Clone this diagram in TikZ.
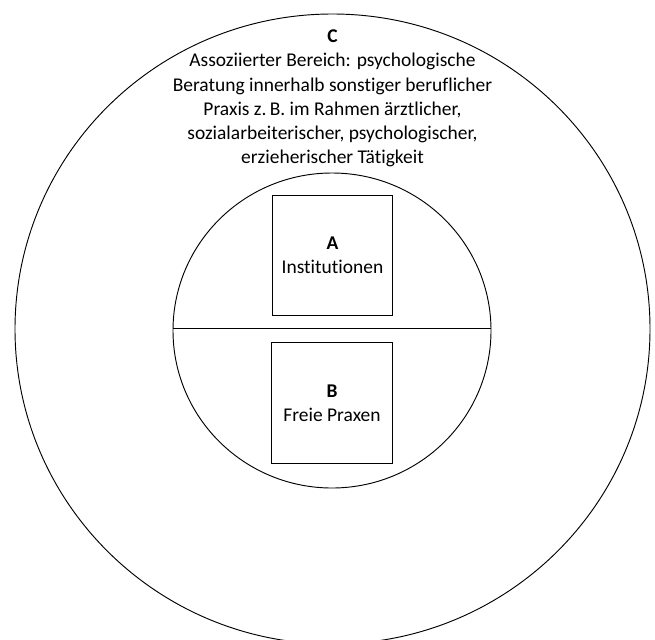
\documentclass[tikz,border=0pt]{standalone}
\usepackage{fontspec}
\setmainfont[Ligatures=NoCommon]{Carlito}
\begin{document}
\begin{tikzpicture}[x=0.75pt,y=0.75pt,yscale=-1,xscale=1]
\tikzset{
  areabox/.style={draw, line width=0.6pt, minimum width=90.5pt, minimum height=90.5pt, inner sep=0pt, align=center, font=\fontsize{14.6}{18}\selectfont},
  areatext/.style={align=center, inner sep=0pt, font=\fontsize{14.6}{18.2}\selectfont}
}
\useasboundingbox (0,0) rectangle (655,639);
\clip (0,0) rectangle (655,639);

%Shape: Ellipse [outer area C]
\draw [line width=0.7pt] (332.5,329) ellipse (317.5 and 315);
%Shape: Ellipse [inner area A/B]
\draw [line width=0.7pt] (332,330.5) ellipse (159 and 157.5);
%Straight Lines [divider]
\coordinate (divl) at (173,328);
\coordinate (divr) at (491,328);
\draw [line width=0.7pt] (divl) -- (divr);

% Text Node
\node [areatext] (assoc) at (332.5,98.5) {\textbf{C}\\Assoziierter Bereich: psychologische\\Beratung innerhalb sonstiger beruflicher\\Praxis z.\,B. im Rahmen ärztlicher,\\sozialarbeiterischer, psychologischer,\\erzieherischer Tätigkeit};
% Text Node
\node [areabox] (inst) at (332.5,255.5) {\textbf{A}\\Institutionen};
% Text Node
\node [areabox] (praxen) at (332,403) {\textbf{B}\\Freie Praxen};

\end{tikzpicture}
\end{document}
